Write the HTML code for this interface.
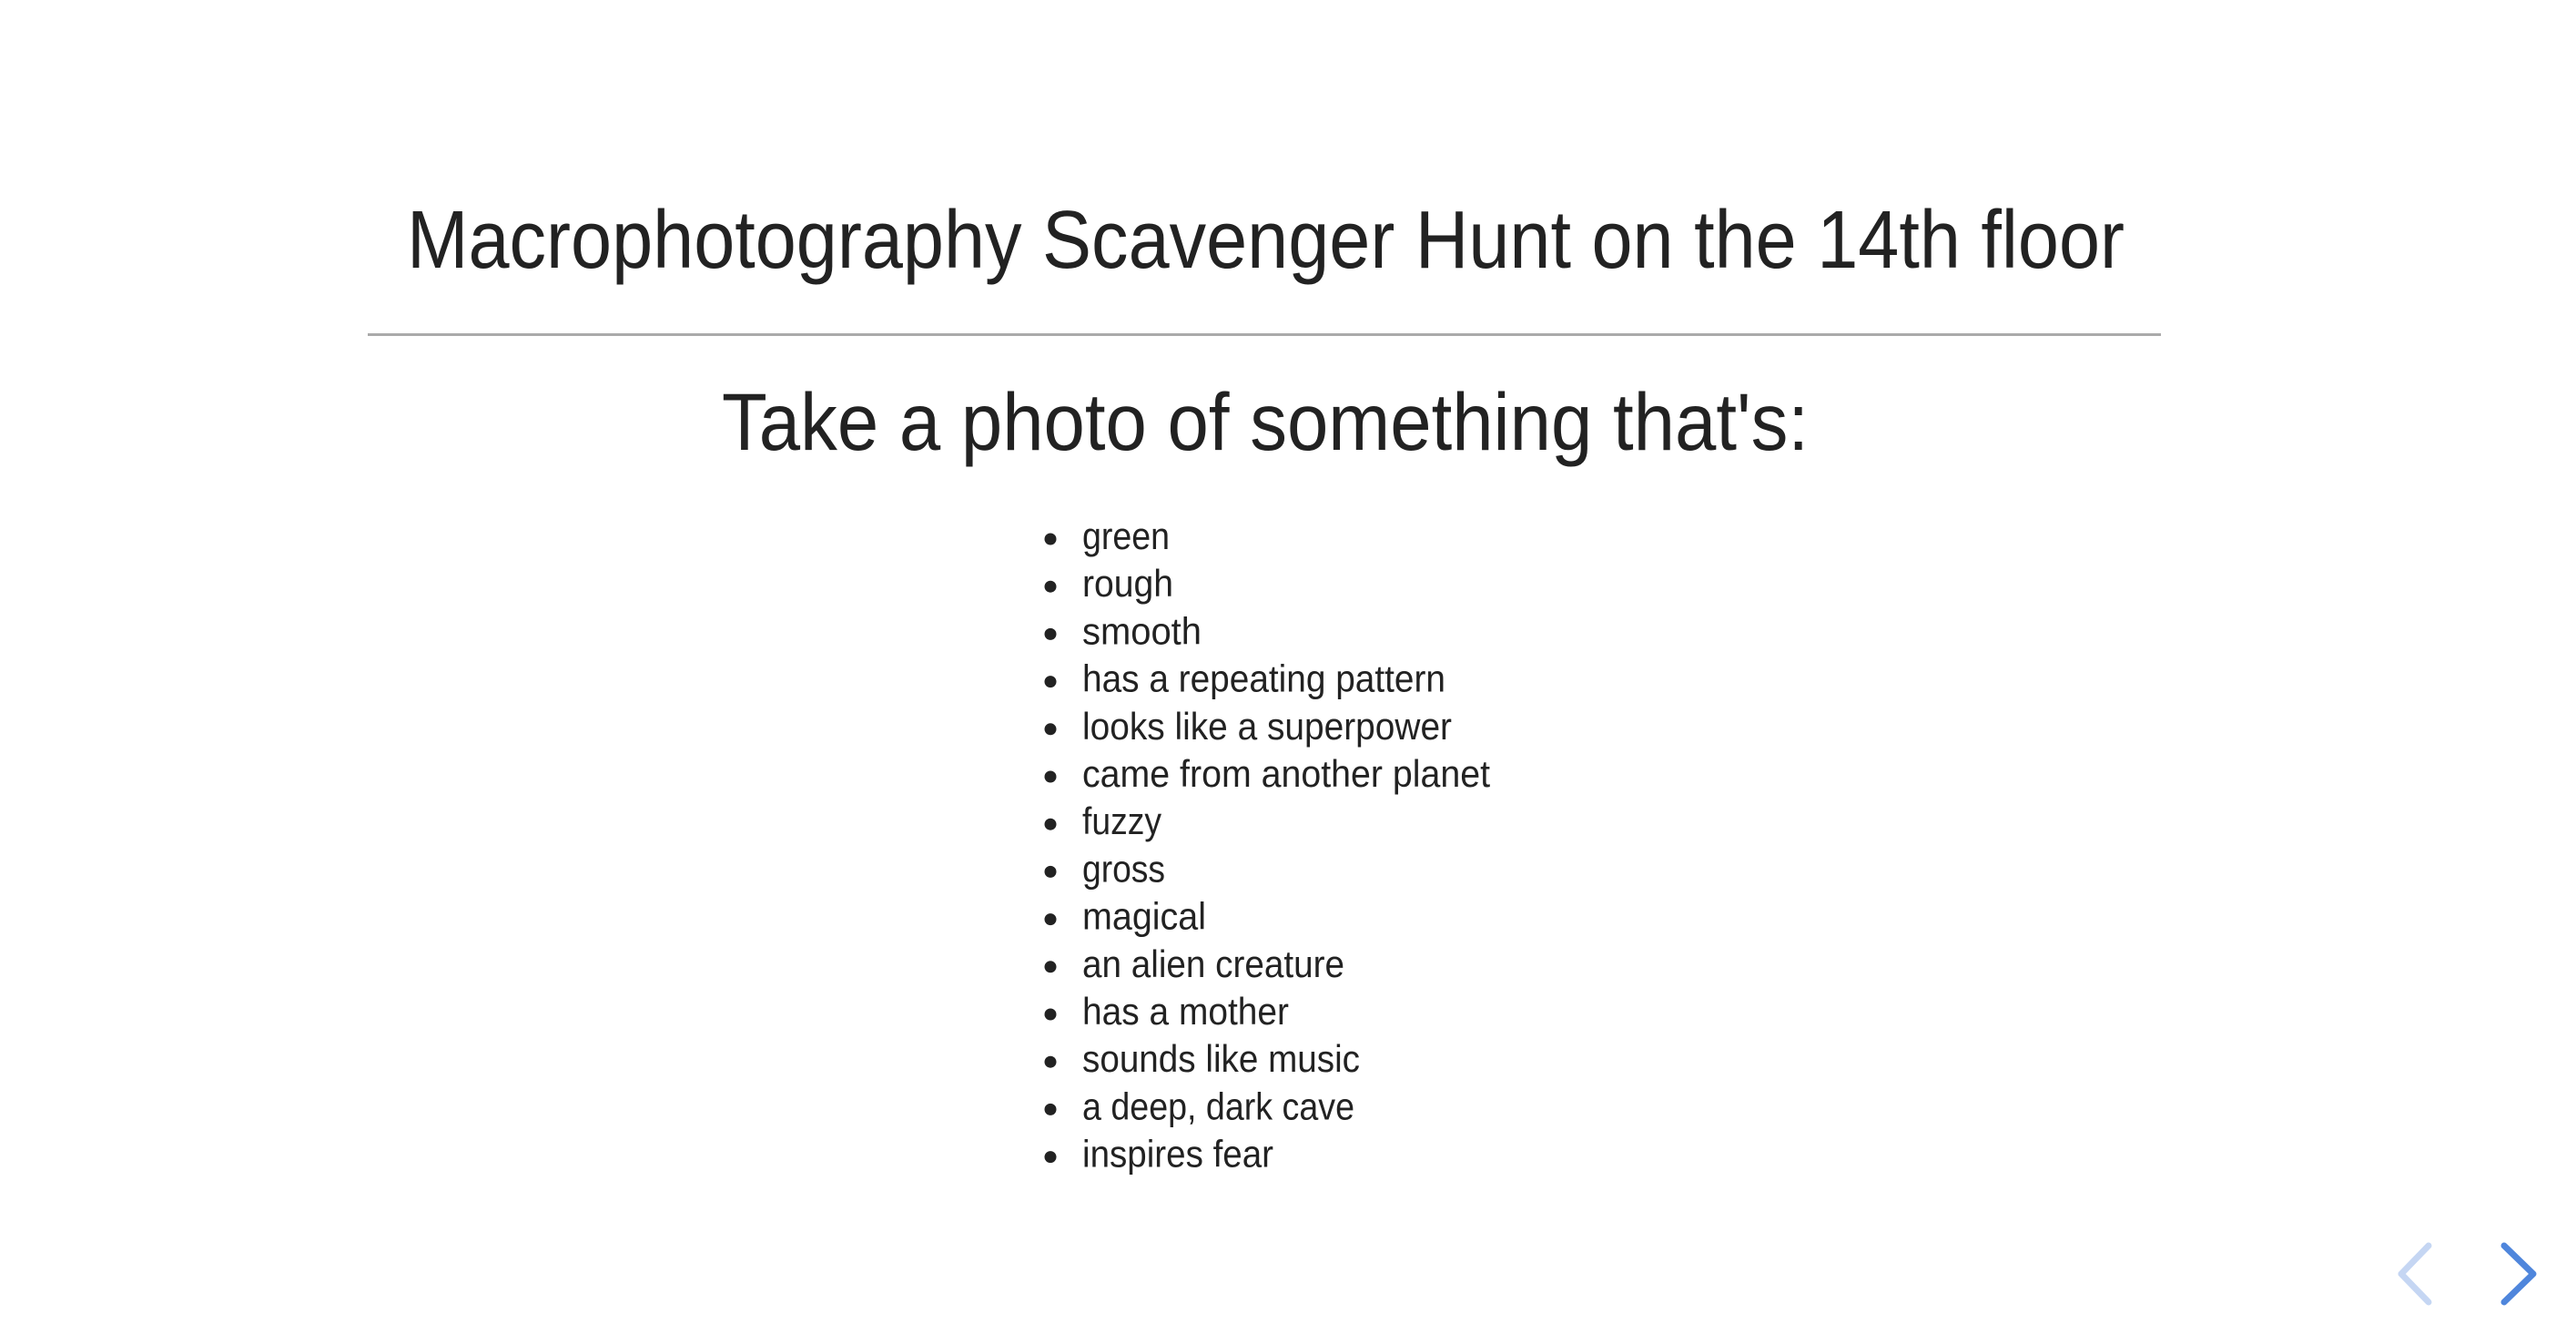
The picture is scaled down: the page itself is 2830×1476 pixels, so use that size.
<!DOCTYPE html>
<html><head><meta charset="utf-8"><style>
html,body{margin:0;padding:0;background:#fff;width:2830px;height:1476px;overflow:hidden}
svg{display:block}
text{font-family:"Liberation Sans",sans-serif;fill:#222}
</style></head><body>
<svg width="2830" height="1476" viewBox="0 0 2830 1476">
<text x="447" y="294" font-size="90" textLength="1887" lengthAdjust="spacingAndGlyphs">Macrophotography Scavenger Hunt on the 14th floor</text>
<rect x="404" y="366" width="1970" height="3" fill="#aaa"/>
<text x="793" y="494" font-size="89" textLength="1194" lengthAdjust="spacingAndGlyphs">Take a photo of something that's:</text>
<g id="list"></g>
<polyline points="2668,1368 2638,1399 2668,1430" fill="none" stroke="#c5d6f3" stroke-width="7" stroke-linecap="round" stroke-linejoin="round"/>
<polyline points="2751,1368 2783,1399 2751,1430" fill="none" stroke="#4f86dc" stroke-width="7" stroke-linecap="round" stroke-linejoin="round"/>
</svg>
<script>
const items=["green","rough","smooth","has a repeating pattern","looks like a superpower","came from another planet","fuzzy","gross","magical","an alien creature","has a mother","sounds like music","a deep, dark cave","inspires fear"];
const widths=[96,100,131,399,406,448,87,91,136,288,227,305,299,210];
const g=document.getElementById('list');
const NS="http://www.w3.org/2000/svg";
items.forEach((t,i)=>{
  const y=603+i*52.2;
  const c=document.createElementNS(NS,'circle');
  
  
  c.setAttribute('cx',1154);c.setAttribute('cy',y-11);c.setAttribute('r',6.5);c.setAttribute('fill','#222');
  g.appendChild(c);
  const tx=document.createElementNS(NS,'text');
  
  
  tx.setAttribute('x',1189);tx.setAttribute('y',y);tx.setAttribute('font-size',42);
  tx.setAttribute('textLength',widths[i]);tx.setAttribute('lengthAdjust','spacingAndGlyphs');
  tx.textContent=t;
  g.appendChild(tx);
});
</script>
</body></html>
